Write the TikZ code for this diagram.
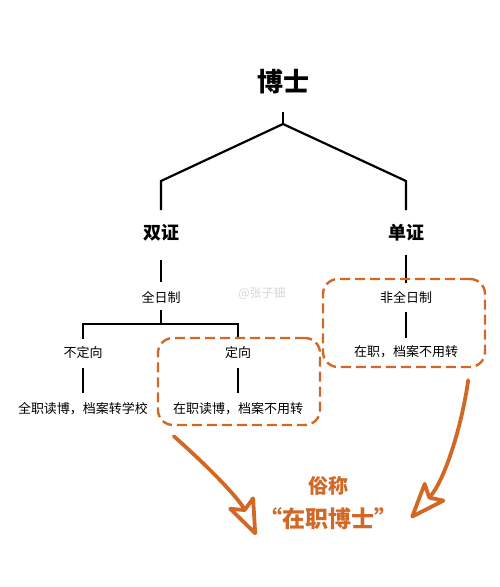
\documentclass[tikz,border=0pt]{standalone}
\usepackage{fontspec}
\setmainfont{Noto Sans CJK SC}
\usetikzlibrary{arrows.meta}
\definecolor{org}{RGB}{210,104,38}
\definecolor{wm}{RGB}{215,215,215}
\tikzset{
  tree/.style={line width=2.2pt, black},
  sub/.style={line width=1.6pt, black},
  lbl/.style={inner sep=0pt, font=\fontsize{13}{13}\selectfont},
  big/.style={inner sep=0pt, font=\fontsize{18}{18}\selectfont\bfseries},
  dbox/.style={draw=org, line width=2.4pt, rounded corners=15pt, dash pattern=on 10pt off 5pt},
  oarr/.style={draw=org, line width=3.8pt, line cap=round, -{Stealth[open, round, length=42pt, width=32pt, inset=9pt, line width=3.8pt]}},
}
\begin{document}
\begin{tikzpicture}[x=1pt,y=-1pt]
\useasboundingbox (0,0) rectangle (500,587);
\fill[white] (0,0) rectangle (500,587);
% nodes
\node[inner sep=0pt, font=\fontsize{26}{26}\selectfont\bfseries] (bs) at (283,82) {博士};
\node[big] (sz) at (161,233) {双证};
\node[big] (dz) at (406,233) {单证};
\node[lbl] (qr) at (161,297) {全日制};
\node[lbl] (bdx) at (83,353) {不定向};
\node[lbl] (dx) at (238,353) {定向};
\node[lbl] (l1) at (83,409) {全职读博，档案转学校};
\node[lbl] (l2) at (238,409) {在职读博，档案不用转};
\node[lbl] (fq) at (406,297) {非全日制};
\node[lbl] (zz) at (406,352) {在职，档案不用转};
\node[inner sep=0pt, text=wm, font=\fontsize{12}{12}\selectfont] (w) at (262,294) {@张子钿};
% coordinates
\coordinate (top) at (283,124);
\coordinate (lk) at (161,181);
\coordinate (rk) at (406,181);
\coordinate (mid) at (161,324);
\coordinate (ml) at (83,324);
\coordinate (mr) at (238,324);
% top tree
\draw[tree] (283,112) -- (top);
\draw[tree, line join=miter] (sz.north |- 0,210) -- (lk) -- (top) -- (rk) -- (dz.north |- 0,210);
% left subtree
\draw[sub] (sz.south |- 0,260) -- (qr.north |- 0,282);
\draw[sub] (qr.south |- 0,310) -- (mid);
\draw[sub] (bdx.north |- 0,339) -- (ml) -- (mr) -- (dx.north |- 0,339);
\draw[sub] (bdx.south |- 0,368) -- (l1.north |- 0,393);
\draw[sub] (dx.south |- 0,368) -- (l2.north |- 0,393);
% right subtree
\draw[sub] (dz.south |- 0,255) -- (fq.north |- 0,283);
\draw[sub] (fq.south |- 0,312) -- (zz.north |- 0,338);
% dashed boxes
\node[dbox, minimum width=162pt, minimum height=88pt] (rb) at (404,323) {};
\node[dbox, minimum width=162pt, minimum height=87pt] (lb) at (239,381.5) {};
% label
\node[inner sep=0pt, text=org, font=\fontsize{20}{20}\selectfont\bfseries] (sc) at (328,486) {俗称};
\node[inner sep=0pt, text=org, font=\fontsize{23}{23}\selectfont\bfseries] (zb) at (328,519) {“在职博士”};
% arrows
\coordinate (a1) at (256,535);
\coordinate (a2) at (411,518);
\draw[oarr] ([shift={(17,10)}]lb.south west) .. controls (212,470) and (240,500) .. (a1);
\draw[oarr] ([shift={(-18,12)}]rb.south east) .. controls (462,425) and (445,480) .. (a2);
\end{tikzpicture}
\end{document}
